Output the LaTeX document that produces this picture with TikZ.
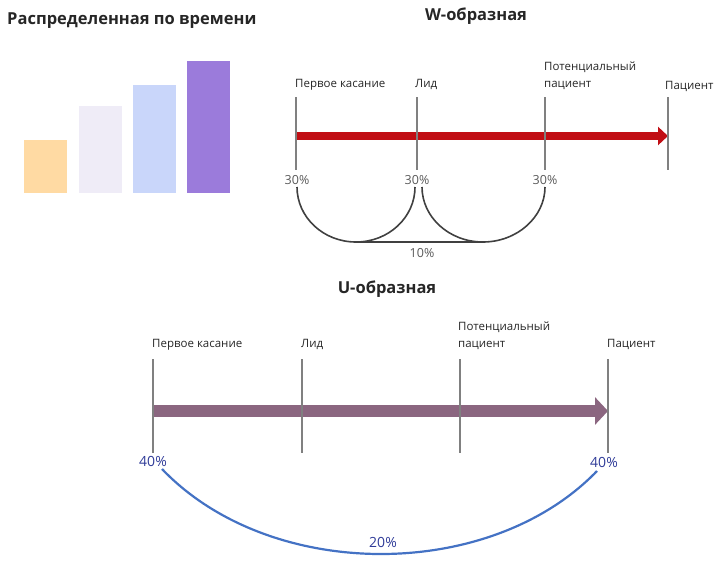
\documentclass[tikz,border=0pt]{standalone}
\usepackage{fontspec}
\setmainfont{Open Sans}
\usetikzlibrary{arrows.meta}

\definecolor{barA}{HTML}{FFDAA3}
\definecolor{barB}{HTML}{EFECF7}
\definecolor{barC}{HTML}{C9D6FA}
\definecolor{barD}{HTML}{9B7BDB}
\definecolor{stagegray}{HTML}{808080}
\definecolor{lbltext}{HTML}{262626}
\definecolor{pctgray}{HTML}{595959}
\definecolor{pctblue}{HTML}{2F3B98}
\definecolor{wred}{HTML}{C10E14}
\definecolor{umauve}{HTML}{8B6680}
\definecolor{ublue}{HTML}{4472C4}
\definecolor{curvegray}{HTML}{404040}

\begin{document}
\begin{tikzpicture}[x=1pt, y=-1pt,
    stage/.style={draw=stagegray, line width=2.6pt},
    lbl/.style={anchor=base west, inner sep=0pt, text=lbltext, align=left,
                font=\fontsize{11.5}{16.5}\selectfont},
    pct/.style={anchor=base, inner sep=0pt, font=\fontsize{12.5}{15}\selectfont},
    bigpct/.style={pct, text=pctblue, font=\fontsize{14}{16}\selectfont},
    ttl/.style={anchor=base, inner sep=0pt, text=lbltext,
                font=\fontsize{16.5}{19}\selectfont\bfseries}]
    \useasboundingbox (0,0) rectangle (720,570);

    % Distributed over time
    \node[ttl, anchor=base west] (tdist) at (7,24) {Распределенная по времени};
    \fill[barA] (24,140) rectangle (67,193);
    \fill[barB] (79,106) rectangle (122,193);
    \fill[barC] (133,85) rectangle (176,193);
    \fill[barD] (187,61) rectangle (230,193);

    % W-shaped
    \node[ttl] (tw) at (476,20) {W-образная};
    \coordinate (wa1) at (296,136);
    \coordinate (wa2) at (668,136);
    \draw[wred, line width=8pt, -{Triangle[length=10pt, width=18pt]}] (wa1) -- (wa2);
    \foreach \n/\x in {1/296, 2/417, 3/545, 4/668} {
        \coordinate (wt\n) at (\x,97);
        \coordinate (wb\n) at (\x,170);
        \draw[stage] (wt\n) -- (wb\n);
    }
    \node[lbl] (wl1) at (295,87) {Первое касание};
    \node[lbl] (wl2) at (415,87) {Лид};
    \node[lbl] (wl3) at (544,87) {Потенциальный\\пациент};
    \node[lbl] (wl4) at (665,89) {Пациент};
    \node[pct, text=pctgray] (wp1) at (297,184) {30\%};
    \node[pct, text=pctgray] (wp2) at (417,184) {30\%};
    \node[pct, text=pctgray] (wp3) at (545,184) {30\%};
    \node[pct, text=pctgray] (wp4) at (422,257) {10\%};

    \coordinate (wc1) at (297,187);
    \coordinate (wc2) at (415,187);
    \coordinate (wc3) at (422,187);
    \coordinate (wc4) at (545,187);
    \coordinate (wd1) at (356,242);
    \coordinate (wd2) at (483,242);
    \draw[curvegray, line width=1.6pt]
        (wc1) .. controls +(0,30) and +(-33,0) .. (wd1)
              .. controls +(33,0) and +(0,30) .. (wc2);
    \draw[curvegray, line width=1.6pt]
        (wc3) .. controls +(0,30) and +(-34,0) .. (wd2)
              .. controls +(34,0) and +(0,30) .. (wc4);
    \draw[curvegray, line width=1.6pt] (wd1) -- (wd2);

    % U-shaped
    \node[ttl] (tu) at (387,293) {U-образная};
    \coordinate (ua1) at (153,411);
    \coordinate (ua2) at (608,411);
    \draw[umauve, line width=12pt, -{Triangle[length=13pt, width=27pt]}] (ua1) -- (ua2);
    \foreach \n/\x in {1/153, 2/302, 3/460, 4/608} {
        \coordinate (ut\n) at (\x,359);
        \coordinate (ub\n) at (\x,453);
        \draw[stage] (ut\n) -- (ub\n);
    }
    \node[lbl] (ul1) at (152,347) {Первое касание};
    \node[lbl] (ul2) at (301,347) {Лид};
    \node[lbl] (ul3) at (458,347) {Потенциальный\\пациент};
    \node[lbl] (ul4) at (607,347) {Пациент};
    \node[bigpct] (up1) at (153,466) {40\%};
    \node[bigpct] (up2) at (604,467) {40\%};
    \node[bigpct] (up3) at (383,547) {20\%};

    \coordinate (uc1) at (162,469);
    \coordinate (uc2) at (597,471);
    \draw[ublue, line width=2.2pt]
        (uc1) .. controls +(108,113) and +(-107,111) .. (uc2);
\end{tikzpicture}
\end{document}
